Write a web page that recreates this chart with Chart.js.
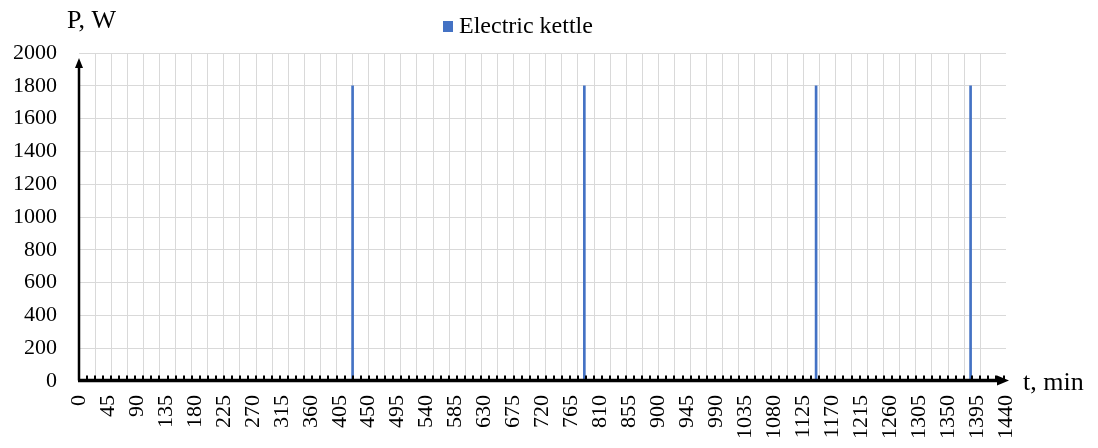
<!DOCTYPE html>
<html>
<head>
<meta charset="utf-8">
<script src="https://cdn.jsdelivr.net/npm/chart.js@4/dist/chart.umd.min.js"></script>
<style>
  html, body { margin: 0; padding: 0; background: #fff; }
  #wrap { width: 1098px; height: 448px; }
</style>
</head>
<body>
<div id="wrap"><canvas id="kettleChart" width="1098" height="448"></canvas></div>
<script>
// kettle switch-on moments (min of the day) and power (W)
const timeMin = [425, 785, 1145, 1385];
const powerW = [1800, 1800, 1800, 1800];
const seriesName = 'Electric kettle';

// axes
const xMax = 1440;
const xLabelStep = 45;   // tick labels every 45 min
const xGridStep = 25;    // vertical grid every 25 min
const yMax = 2000;
const yStep = 200;

const serif = "'Liberation Serif', 'Times New Roman', serif";

// axes with arrows, small tick marks, axis titles and legend
const axisDeco = {
    id: 'axisDeco',
    afterDraw(chart) {
        const ctx = chart.ctx;
        const a = chart.chartArea;
        const xs = chart.scales.x;
        const axisY = a.bottom - 0.5;
        ctx.save();
        ctx.fillStyle = '#000';
        ctx.strokeStyle = '#000';

        // small marks on the x axis
        for (let v = xGridStep / 2; v < xMax; v += xGridStep / 2) {
            const px = xs.getPixelForValue(v);
            ctx.fillRect(Math.round(px) - 1, axisY - 5, 2, 5);
        }

        // x axis line + arrow
        ctx.lineWidth = 3.5;
        ctx.beginPath();
        ctx.moveTo(a.left - 1, axisY);
        ctx.lineTo(a.right - 6, axisY);
        ctx.stroke();
        ctx.beginPath();
        ctx.moveTo(a.right + 3, axisY);
        ctx.lineTo(a.right - 9, axisY - 5);
        ctx.lineTo(a.right - 9, axisY + 5);
        ctx.closePath();
        ctx.fill();

        // y axis line + arrow
        const ax = a.left;
        ctx.lineWidth = 2.5;
        ctx.beginPath();
        ctx.moveTo(ax, axisY);
        ctx.lineTo(ax, a.top + 12);
        ctx.stroke();
        ctx.beginPath();
        ctx.moveTo(ax, a.top + 5);
        ctx.lineTo(ax - 4, a.top + 15);
        ctx.lineTo(ax + 4, a.top + 15);
        ctx.closePath();
        ctx.fill();

        // axis titles
        ctx.font = '26px ' + serif;
        ctx.textBaseline = 'middle';
        ctx.textAlign = 'left';
        ctx.fillText('P, W', 67, 21);
        ctx.fillText('t, min', 1023, 383);

        // legend
        const ds = chart.data.datasets[0];
        ctx.fillStyle = ds.backgroundColor;
        ctx.fillRect(443, 21, 10, 11);
        ctx.fillStyle = '#000';
        ctx.font = '24px ' + serif;
        ctx.fillText(ds.label, 459, 27);
        ctx.restore();
    }
};

const plainNum = v => String(v);

const ctx = document.getElementById('kettleChart').getContext('2d');
new Chart(ctx, {
    type: 'bar',
    data: {
        datasets: [{
            label: seriesName,
            data: timeMin.map((t, i) => ({ x: t, y: powerW[i] })),
            backgroundColor: '#4472C4',
            barThickness: 2,
            xAxisID: 'x'
        }]
    },
    options: {
        responsive: false,
        animation: false,
        layout: { padding: { top: 53, right: 92, left: 0, bottom: 0 } },
        plugins: {
            legend: { display: false },
            tooltip: { enabled: false }
        },
        scales: {
            x: {
                type: 'linear',
                position: 'bottom',
                offset: false,
                min: 0,
                max: xMax,
                afterFit(scale) { scale.height = 67; },
                ticks: {
                    stepSize: xLabelStep,
                    autoSkip: false,
                    minRotation: 90,
                    maxRotation: 90,
                    padding: 14,
                    color: '#000',
                    font: { family: serif, size: 22 },
                    callback: plainNum
                },
                grid: { display: false, drawTicks: false, offset: false },
                border: { display: false }
            },
            xg: {
                type: 'linear',
                position: 'bottom',
                offset: false,
                min: 0,
                max: xMax,
                afterFit(scale) { scale.height = 0; },
                ticks: { display: false, stepSize: xGridStep, autoSkip: false },
                grid: {
                    drawTicks: false,
                    offset: false,
                    color: c => (c.tick && (c.tick.value === 0 || c.tick.value === xMax)) ? 'rgba(0,0,0,0)' : '#d9d9d9',
                    lineWidth: 1
                },
                border: { display: false }
            },
            y: {
                min: 0,
                max: yMax,
                afterFit(scale) { scale.width = 79; },
                ticks: {
                    stepSize: yStep,
                    padding: 22,
                    color: '#000',
                    font: { family: serif, size: 22 },
                    callback: plainNum
                },
                grid: { color: '#d9d9d9', lineWidth: 1, drawTicks: false },
                border: { display: false }
            }
        }
    },
    plugins: [axisDeco]
});
</script>
</body>
</html>
